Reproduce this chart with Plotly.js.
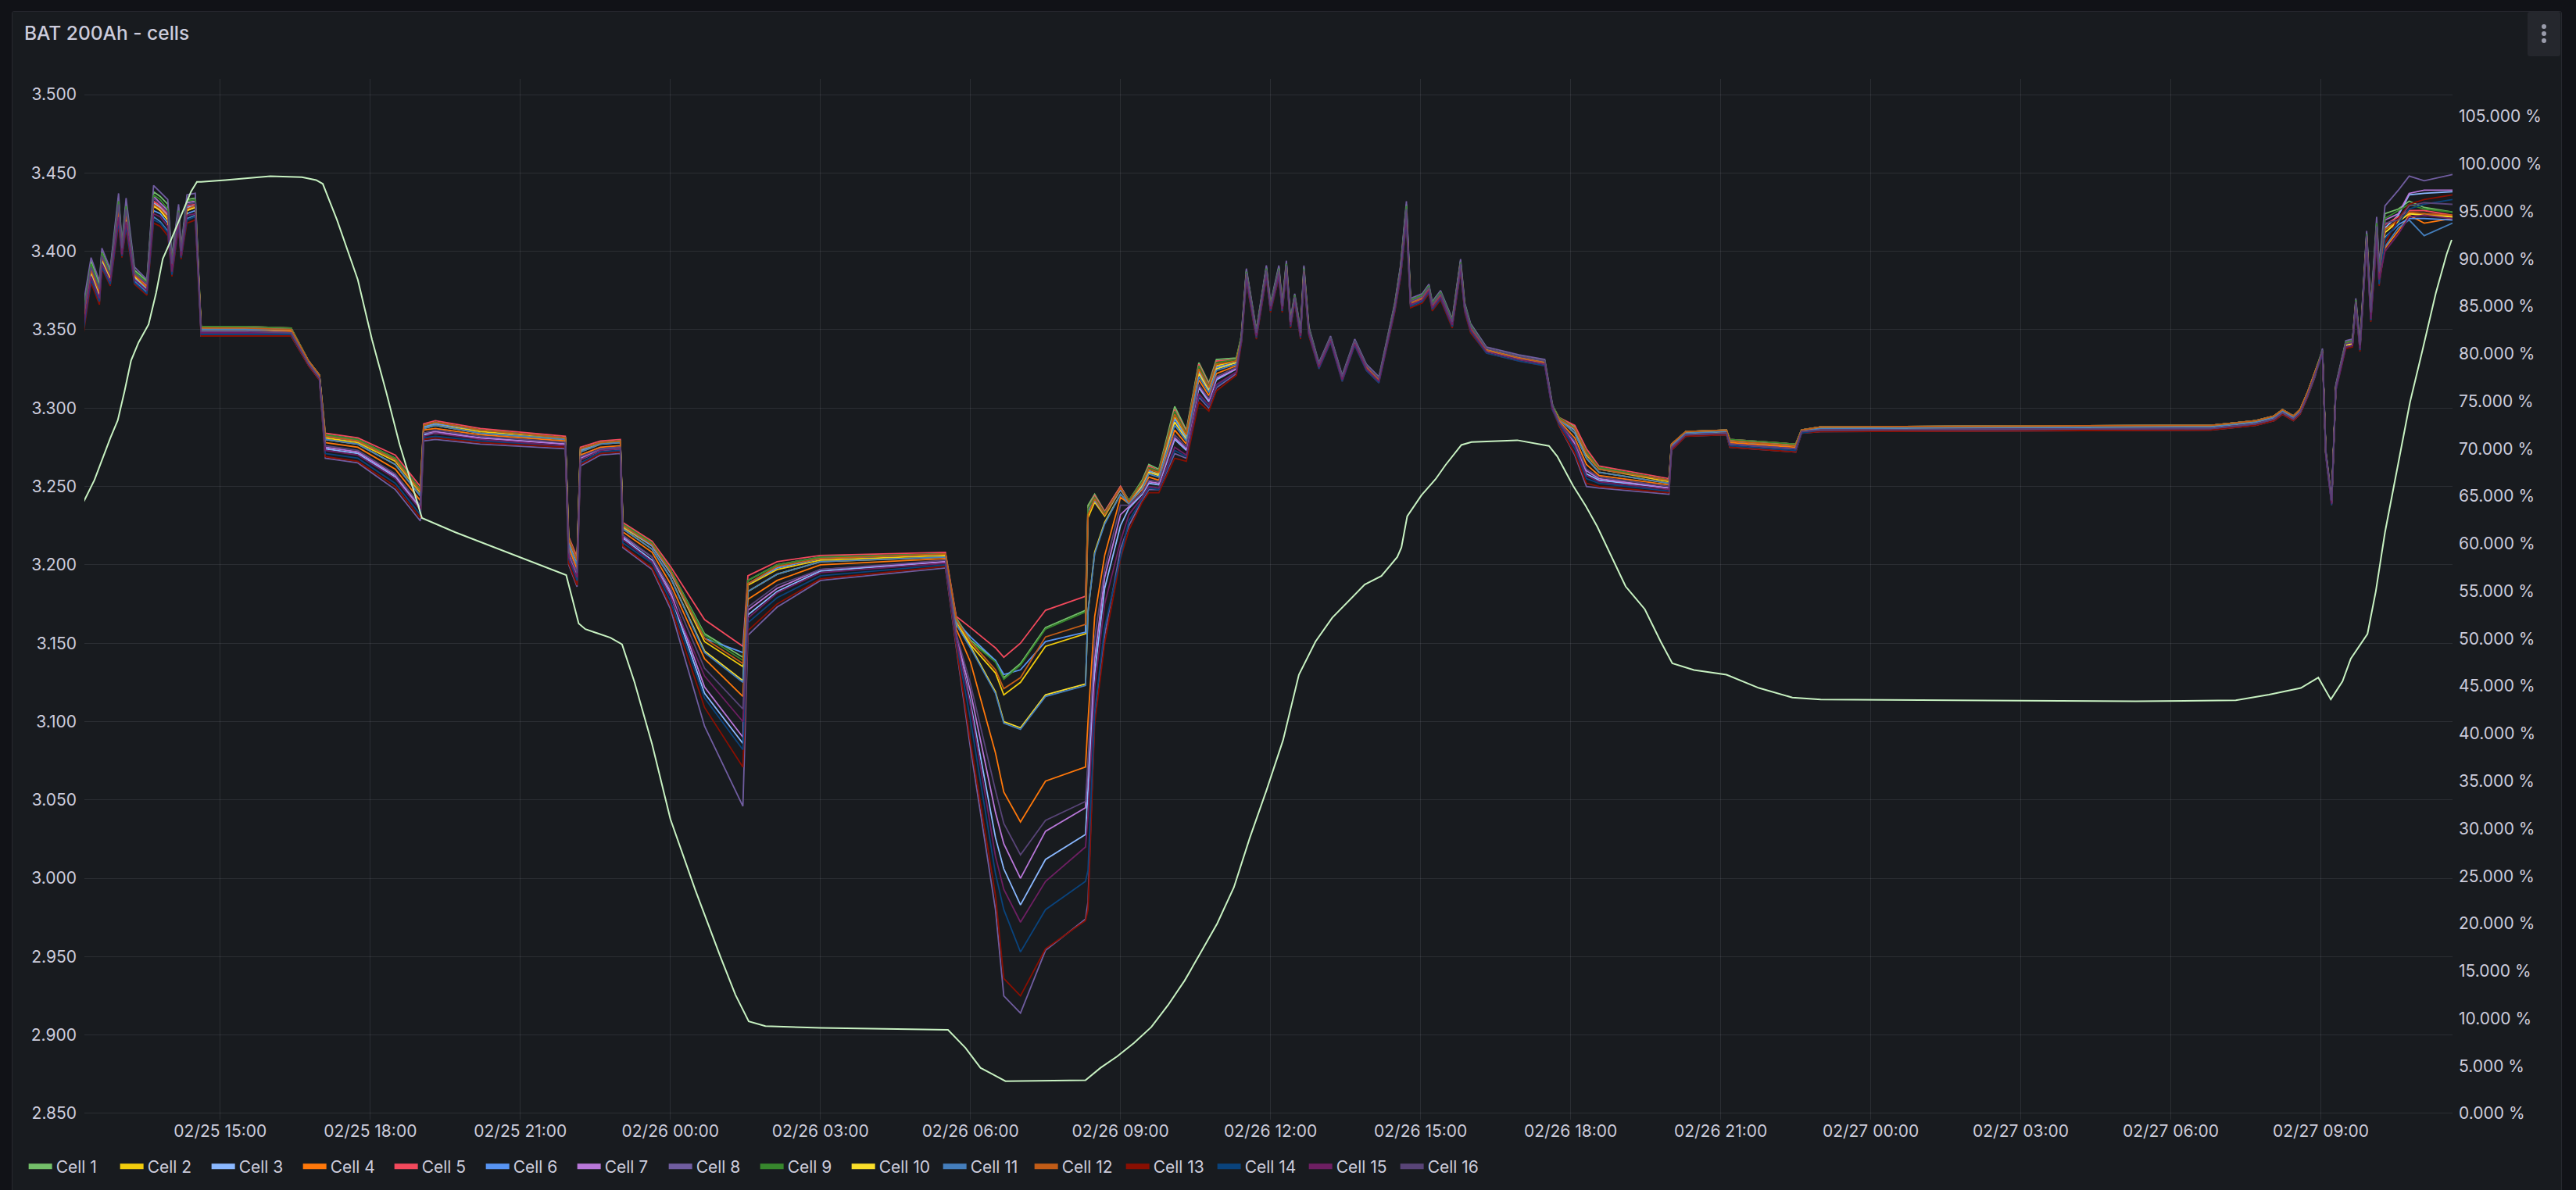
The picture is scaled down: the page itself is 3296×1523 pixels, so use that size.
<!DOCTYPE html>
<html>
<head>
<meta charset="utf-8">
<title>BAT 200Ah - cells</title>
<script src="https://cdn.plot.ly/plotly-3.0.1.min.js"></script>
<style>
  html, body { margin: 0; padding: 0; background: #111217; overflow: hidden; }
  #panel {
    position: absolute; left: 15px; top: 14px;
    width: 3261px; height: 1520px;
    border: 1px solid rgba(204, 204, 220, 0.12);
    border-radius: 3px; overflow: hidden;
  }
  #chart { position: absolute; left: 0; top: 0; }
  #menu {
    position: absolute; left: 3234px; top: 15px; width: 42px; height: 57px;
    background: #25272d; border-radius: 3px;
  }
  #menu span {
    position: absolute; left: 18px; width: 6px; height: 6px;
    border-radius: 50%; background: #9a9cab;
  }
</style>
</head>
<body>
<div id="panel"><div id="chart"></div></div>
<div id="menu"><span style="top:16px"></span><span style="top:25px"></span><span style="top:34px"></span></div>
<script>
// sample times for the 16 cell series
const times = [
  '2025-02-25 12:16','2025-02-25 12:25','2025-02-25 12:35','2025-02-25 12:38','2025-02-25 12:48','2025-02-25 12:58','2025-02-25 13:02','2025-02-25 13:07','2025-02-25 13:17','2025-02-25 13:32','2025-02-25 13:40','2025-02-25 13:48','2025-02-25 13:57','2025-02-25 14:02','2025-02-25 14:10','2025-02-25 14:13','2025-02-25 14:20','2025-02-25 14:30',
  '2025-02-25 14:37','2025-02-25 15:30','2025-02-25 16:25','2025-02-25 16:46','2025-02-25 16:59','2025-02-25 17:06','2025-02-25 17:45','2025-02-25 18:30','2025-02-25 19:00','2025-02-25 19:04','2025-02-25 19:18','2025-02-25 20:12','2025-02-25 21:54','2025-02-25 21:58','2025-02-25 22:08','2025-02-25 22:12','2025-02-25 22:36','2025-02-25 23:00',
  '2025-02-25 23:03','2025-02-25 23:38','2025-02-26 00:00','2025-02-26 00:41','2025-02-26 01:27','2025-02-26 01:33','2025-02-26 02:08','2025-02-26 03:00','2025-02-26 05:30','2025-02-26 05:43',
  '2025-02-26 06:00','2025-02-26 06:30','2025-02-26 06:40','2025-02-26 07:00','2025-02-26 07:30','2025-02-26 08:18','2025-02-26 08:21','2025-02-26 08:29','2025-02-26 08:41','2025-02-26 09:00','2025-02-26 09:10',
  '2025-02-26 09:26','2025-02-26 09:34','2025-02-26 09:46','2025-02-26 10:05','2025-02-26 10:19','2025-02-26 10:34','2025-02-26 10:46','2025-02-26 10:55','2025-02-26 11:19',
  '2025-02-26 11:25','2025-02-26 11:31','2025-02-26 11:43','2025-02-26 11:55','2025-02-26 12:00','2025-02-26 12:10','2025-02-26 12:14','2025-02-26 12:19','2025-02-26 12:24','2025-02-26 12:29','2025-02-26 12:36','2025-02-26 12:40','2025-02-26 12:46','2025-02-26 12:58','2025-02-26 13:12','2025-02-26 13:26','2025-02-26 13:41','2025-02-26 13:55','2025-02-26 14:10','2025-02-26 14:29','2025-02-26 14:36','2025-02-26 14:43','2025-02-26 14:48','2025-02-26 15:02','2025-02-26 15:10','2025-02-26 15:14','2025-02-26 15:24','2025-02-26 15:38','2025-02-26 15:48','2025-02-26 15:53','2025-02-26 16:00','2025-02-26 16:19','2025-02-26 16:58','2025-02-26 17:29','2025-02-26 17:38',
  '2025-02-26 17:46','2025-02-26 18:05','2025-02-26 18:19','2025-02-26 18:34','2025-02-26 19:58','2025-02-26 20:01','2025-02-26 20:18','2025-02-26 21:07','2025-02-26 21:11','2025-02-26 22:30','2025-02-26 22:37','2025-02-26 23:00','2025-02-27 06:48','2025-02-27 07:42','2025-02-27 08:04','2025-02-27 08:14','2025-02-27 08:27','2025-02-27 08:35','2025-02-27 08:44','2025-02-27 08:53',
  '2025-02-27 09:02','2025-02-27 09:06','2025-02-27 09:13','2025-02-27 09:18','2025-02-27 09:30','2025-02-27 09:38','2025-02-27 09:42','2025-02-27 09:47','2025-02-27 09:55','2025-02-27 10:00','2025-02-27 10:07','2025-02-27 10:10','2025-02-27 10:17',
  '2025-02-27 10:33','2025-02-27 10:46','2025-02-27 11:04','2025-02-27 11:38'
];

// cell voltages (V)
const cell1 = [
  3.364,3.394,3.379,3.400,3.387,3.434,3.404,3.431,3.388,3.381,3.438,3.435,3.430,3.395,3.428,3.401,3.433,3.434,
  3.352,3.352,3.351,3.330,3.321,3.283,3.280,3.268,3.248,3.289,3.291,3.286,3.281,3.217,3.204,3.274,3.278,3.279,
  3.226,3.214,3.197,3.156,3.141,3.190,3.200,3.205,3.207,3.166,
  3.152,3.139,3.128,3.137,3.160,3.171,3.238,3.245,3.234,3.250,3.241,
  3.254,3.264,3.261,3.301,3.286,3.329,3.316,3.331,3.332,
  3.346,3.388,3.349,3.390,3.366,3.390,3.366,3.393,3.356,3.372,3.349,3.390,3.351,3.328,3.345,3.320,3.343,3.327,3.319,3.366,3.390,3.430,3.369,3.372,3.378,3.367,3.374,3.356,3.394,3.366,3.353,3.338,3.333,3.330,3.302,
  3.294,3.288,3.272,3.262,3.254,3.277,3.285,3.286,3.280,3.277,3.286,3.288,3.289,3.292,3.295,3.299,3.295,3.299,3.310,3.323,
  3.337,3.272,3.241,3.314,3.342,3.343,3.369,3.341,3.412,3.363,3.419,3.390,3.424,
  3.427,3.432,3.428,3.425
];
const cell2 = [
  3.358,3.388,3.374,3.396,3.384,3.427,3.401,3.424,3.385,3.377,3.430,3.427,3.422,3.391,3.423,3.399,3.427,3.429,
  3.351,3.351,3.350,3.330,3.321,3.281,3.278,3.266,3.246,3.288,3.290,3.285,3.281,3.215,3.202,3.273,3.278,3.279,
  3.224,3.212,3.195,3.151,3.135,3.187,3.197,3.203,3.206,3.164,
  3.149,3.131,3.117,3.125,3.148,3.156,3.230,3.240,3.231,3.248,3.240,
  3.251,3.260,3.258,3.294,3.282,3.324,3.312,3.327,3.330,
  3.344,3.385,3.347,3.387,3.364,3.387,3.364,3.390,3.354,3.370,3.347,3.387,3.349,3.327,3.344,3.319,3.342,3.326,3.318,3.364,3.387,3.425,3.367,3.370,3.376,3.365,3.372,3.354,3.391,3.364,3.351,3.337,3.332,3.329,3.301,
  3.293,3.286,3.270,3.261,3.253,3.276,3.285,3.286,3.279,3.276,3.286,3.288,3.289,3.292,3.295,3.299,3.295,3.299,3.310,3.323,
  3.336,3.271,3.240,3.313,3.341,3.342,3.367,3.339,3.409,3.360,3.414,3.385,3.414,
  3.419,3.424,3.424,3.422
];
const cell3 = [
  3.358,3.389,3.374,3.396,3.384,3.428,3.401,3.425,3.385,3.378,3.431,3.428,3.423,3.391,3.423,3.399,3.428,3.429,
  3.348,3.348,3.348,3.328,3.319,3.274,3.271,3.256,3.236,3.283,3.284,3.281,3.277,3.206,3.193,3.267,3.273,3.274,
  3.217,3.203,3.181,3.118,3.086,3.168,3.183,3.196,3.202,3.154,
  3.112,3.026,3.006,2.983,3.012,3.028,3.055,3.131,3.185,3.225,3.236,
  3.245,3.252,3.251,3.280,3.273,3.313,3.304,3.318,3.325,
  3.344,3.385,3.347,3.387,3.364,3.387,3.364,3.390,3.354,3.370,3.347,3.387,3.349,3.327,3.344,3.319,3.342,3.326,3.318,3.364,3.387,3.426,3.367,3.370,3.376,3.365,3.372,3.354,3.391,3.364,3.351,3.337,3.332,3.329,3.301,
  3.291,3.277,3.258,3.254,3.249,3.274,3.283,3.284,3.277,3.274,3.285,3.286,3.287,3.290,3.293,3.297,3.293,3.297,3.308,3.321,
  3.336,3.271,3.240,3.313,3.341,3.342,3.367,3.339,3.409,3.360,3.414,3.386,3.415,
  3.423,3.436,3.437,3.438
];
const cell4 = [
  3.357,3.387,3.373,3.395,3.383,3.426,3.400,3.423,3.384,3.377,3.429,3.426,3.420,3.390,3.422,3.398,3.426,3.428,
  3.350,3.350,3.349,3.329,3.320,3.278,3.275,3.261,3.241,3.286,3.287,3.283,3.279,3.211,3.197,3.270,3.275,3.276,
  3.221,3.208,3.188,3.140,3.116,3.178,3.190,3.200,3.204,3.159,
  3.138,3.080,3.055,3.036,3.062,3.071,3.100,3.167,3.206,3.243,3.239,
  3.248,3.256,3.254,3.286,3.277,3.318,3.308,3.322,3.327,
  3.344,3.385,3.347,3.387,3.364,3.387,3.364,3.390,3.354,3.370,3.347,3.387,3.349,3.327,3.344,3.319,3.342,3.326,3.318,3.364,3.387,3.424,3.367,3.370,3.376,3.365,3.372,3.354,3.391,3.364,3.351,3.337,3.332,3.329,3.301,
  3.292,3.281,3.264,3.257,3.251,3.275,3.284,3.285,3.278,3.275,3.285,3.287,3.288,3.291,3.294,3.298,3.294,3.298,3.309,3.322,
  3.336,3.271,3.240,3.313,3.340,3.341,3.367,3.339,3.409,3.359,3.413,3.384,3.402,
  3.413,3.423,3.418,3.421
];
const cell5 = [
  3.359,3.390,3.375,3.397,3.385,3.429,3.401,3.426,3.386,3.378,3.432,3.429,3.424,3.392,3.424,3.399,3.429,3.430,
  3.352,3.352,3.351,3.330,3.321,3.284,3.281,3.270,3.250,3.290,3.292,3.287,3.282,3.218,3.205,3.275,3.279,3.280,
  3.227,3.215,3.199,3.165,3.148,3.193,3.202,3.206,3.208,3.167,
  3.160,3.147,3.141,3.150,3.171,3.180,3.236,3.244,3.234,3.250,3.241,
  3.253,3.263,3.260,3.299,3.285,3.328,3.315,3.330,3.331,
  3.345,3.386,3.348,3.388,3.365,3.388,3.365,3.391,3.355,3.371,3.348,3.388,3.350,3.327,3.344,3.319,3.342,3.326,3.318,3.365,3.388,3.426,3.368,3.371,3.377,3.366,3.373,3.355,3.392,3.365,3.352,3.337,3.332,3.329,3.301,
  3.294,3.289,3.274,3.263,3.255,3.277,3.285,3.286,3.280,3.277,3.286,3.288,3.289,3.292,3.295,3.299,3.295,3.299,3.310,3.323,
  3.336,3.271,3.240,3.313,3.341,3.342,3.368,3.340,3.410,3.360,3.415,3.386,3.417,
  3.422,3.426,3.426,3.423
];
const cell6 = [
  3.355,3.386,3.371,3.394,3.382,3.424,3.399,3.421,3.383,3.376,3.426,3.424,3.418,3.389,3.420,3.397,3.424,3.426,
  3.351,3.351,3.350,3.330,3.321,3.282,3.279,3.267,3.247,3.288,3.290,3.286,3.281,3.215,3.202,3.273,3.278,3.279,
  3.225,3.212,3.195,3.153,3.144,3.188,3.198,3.204,3.207,3.164,
  3.154,3.139,3.130,3.133,3.151,3.157,3.234,3.241,3.232,3.248,3.240,
  3.251,3.260,3.257,3.293,3.281,3.323,3.312,3.326,3.329,
  3.343,3.384,3.346,3.386,3.363,3.386,3.363,3.389,3.353,3.369,3.346,3.386,3.348,3.326,3.343,3.318,3.341,3.325,3.317,3.363,3.386,3.423,3.366,3.369,3.375,3.364,3.371,3.353,3.390,3.363,3.350,3.336,3.331,3.328,3.300,
  3.293,3.286,3.271,3.261,3.254,3.276,3.285,3.286,3.279,3.276,3.286,3.288,3.289,3.292,3.295,3.299,3.295,3.299,3.310,3.323,
  3.335,3.270,3.239,3.312,3.340,3.341,3.366,3.338,3.408,3.358,3.411,3.383,3.409,
  3.417,3.421,3.421,3.420
];
const cell7 = [
  3.361,3.391,3.377,3.398,3.386,3.431,3.402,3.428,3.387,3.379,3.435,3.431,3.426,3.393,3.426,3.400,3.431,3.432,
  3.349,3.349,3.348,3.328,3.319,3.275,3.272,3.257,3.237,3.284,3.285,3.281,3.277,3.208,3.194,3.268,3.274,3.275,
  3.218,3.205,3.183,3.122,3.090,3.171,3.185,3.197,3.202,3.155,
  3.119,3.042,3.022,3.000,3.030,3.045,3.070,3.140,3.192,3.232,3.237,
  3.246,3.253,3.252,3.281,3.274,3.314,3.305,3.319,3.325,
  3.345,3.387,3.348,3.389,3.365,3.389,3.365,3.392,3.355,3.371,3.348,3.389,3.350,3.328,3.345,3.320,3.343,3.327,3.319,3.365,3.389,3.428,3.368,3.371,3.377,3.366,3.373,3.355,3.393,3.365,3.352,3.338,3.333,3.330,3.302,
  3.291,3.278,3.260,3.255,3.249,3.275,3.283,3.284,3.277,3.274,3.285,3.286,3.287,3.290,3.293,3.297,3.293,3.297,3.308,3.321,
  3.337,3.272,3.241,3.314,3.342,3.343,3.368,3.340,3.411,3.361,3.417,3.388,3.420,
  3.424,3.437,3.439,3.439
];
const cell8 = [
  3.367,3.396,3.381,3.402,3.389,3.437,3.405,3.434,3.390,3.382,3.442,3.438,3.433,3.397,3.430,3.402,3.436,3.437,
  3.346,3.346,3.346,3.327,3.318,3.268,3.265,3.248,3.228,3.279,3.280,3.277,3.274,3.200,3.186,3.263,3.270,3.271,
  3.211,3.197,3.172,3.097,3.046,3.155,3.173,3.190,3.198,3.147,
  3.083,2.980,2.925,2.914,2.954,2.974,2.985,3.104,3.155,3.210,3.225,
  3.241,3.248,3.248,3.271,3.268,3.307,3.300,3.313,3.322,
  3.347,3.389,3.350,3.391,3.367,3.391,3.367,3.394,3.357,3.373,3.350,3.391,3.352,3.329,3.346,3.321,3.344,3.328,3.320,3.367,3.391,3.432,3.370,3.373,3.379,3.368,3.375,3.357,3.395,3.367,3.354,3.339,3.334,3.331,3.303,
  3.289,3.270,3.250,3.249,3.245,3.273,3.282,3.283,3.275,3.272,3.284,3.285,3.286,3.289,3.292,3.296,3.292,3.296,3.307,3.320,
  3.338,3.273,3.242,3.315,3.343,3.344,3.370,3.342,3.413,3.364,3.422,3.392,3.429,
  3.439,3.448,3.445,3.449
];
const cell9 = [
  3.362,3.392,3.377,3.399,3.386,3.432,3.403,3.429,3.387,3.380,3.436,3.433,3.427,3.394,3.426,3.400,3.432,3.433,
  3.352,3.352,3.351,3.330,3.321,3.283,3.280,3.268,3.248,3.289,3.291,3.286,3.281,3.217,3.203,3.274,3.278,3.279,
  3.226,3.214,3.197,3.155,3.139,3.190,3.200,3.205,3.207,3.165,
  3.151,3.138,3.127,3.136,3.159,3.170,3.236,3.243,3.233,3.249,3.241,
  3.253,3.262,3.260,3.298,3.284,3.327,3.314,3.329,3.331,
  3.346,3.387,3.349,3.389,3.366,3.389,3.366,3.392,3.356,3.372,3.349,3.389,3.351,3.328,3.345,3.320,3.343,3.327,3.319,3.366,3.389,3.429,3.369,3.372,3.378,3.367,3.374,3.356,3.393,3.366,3.353,3.338,3.333,3.330,3.302,
  3.294,3.287,3.272,3.262,3.254,3.277,3.285,3.286,3.280,3.277,3.286,3.288,3.289,3.292,3.295,3.299,3.295,3.299,3.310,3.323,
  3.337,3.272,3.241,3.314,3.342,3.343,3.369,3.341,3.411,3.362,3.418,3.389,3.421,
  3.426,3.430,3.427,3.425
];
const cell10 = [
  3.357,3.387,3.373,3.395,3.383,3.426,3.400,3.423,3.384,3.377,3.429,3.426,3.420,3.390,3.422,3.398,3.426,3.428,
  3.350,3.350,3.350,3.329,3.320,3.280,3.277,3.264,3.244,3.287,3.289,3.284,3.280,3.213,3.200,3.272,3.277,3.278,
  3.223,3.210,3.192,3.145,3.126,3.183,3.194,3.202,3.205,3.162,
  3.148,3.119,3.100,3.096,3.117,3.124,3.170,3.208,3.227,3.245,3.239,
  3.250,3.259,3.257,3.291,3.280,3.322,3.311,3.325,3.329,
  3.344,3.385,3.347,3.387,3.364,3.387,3.364,3.390,3.354,3.370,3.347,3.387,3.349,3.327,3.344,3.319,3.342,3.326,3.318,3.364,3.387,3.424,3.367,3.370,3.376,3.365,3.372,3.354,3.391,3.364,3.351,3.337,3.332,3.329,3.301,
  3.293,3.284,3.268,3.259,3.252,3.276,3.284,3.285,3.279,3.276,3.285,3.287,3.288,3.291,3.294,3.298,3.294,3.298,3.309,3.322,
  3.336,3.271,3.240,3.313,3.340,3.341,3.367,3.339,3.409,3.359,3.413,3.384,3.412,
  3.419,3.424,3.423,3.422
];
const cell11 = [
  3.351,3.382,3.368,3.391,3.380,3.420,3.397,3.417,3.381,3.374,3.422,3.419,3.413,3.386,3.417,3.396,3.421,3.423,
  3.350,3.350,3.350,3.329,3.320,3.280,3.277,3.264,3.244,3.287,3.289,3.284,3.280,3.213,3.200,3.272,3.277,3.278,
  3.223,3.210,3.192,3.144,3.125,3.183,3.194,3.202,3.205,3.162,
  3.147,3.118,3.099,3.095,3.116,3.123,3.170,3.207,3.226,3.245,3.239,
  3.249,3.258,3.256,3.289,3.279,3.320,3.310,3.324,3.328,
  3.342,3.382,3.345,3.384,3.362,3.384,3.362,3.387,3.352,3.368,3.345,3.384,3.347,3.326,3.343,3.318,3.341,3.325,3.317,3.362,3.384,3.420,3.365,3.368,3.374,3.363,3.370,3.352,3.388,3.362,3.349,3.336,3.331,3.328,3.300,
  3.293,3.284,3.268,3.259,3.252,3.276,3.284,3.285,3.279,3.276,3.285,3.287,3.288,3.291,3.294,3.298,3.294,3.298,3.309,3.322,
  3.335,3.270,3.239,3.312,3.339,3.340,3.365,3.337,3.406,3.356,3.408,3.380,3.403,
  3.415,3.420,3.410,3.418
];
const cell12 = [
  3.358,3.388,3.374,3.396,3.384,3.427,3.401,3.424,3.385,3.377,3.430,3.427,3.422,3.391,3.423,3.399,3.427,3.429,
  3.351,3.351,3.350,3.330,3.321,3.282,3.279,3.267,3.247,3.289,3.291,3.286,3.281,3.216,3.203,3.274,3.278,3.279,
  3.225,3.213,3.196,3.153,3.137,3.188,3.199,3.204,3.207,3.165,
  3.151,3.133,3.121,3.128,3.154,3.162,3.232,3.242,3.232,3.249,3.240,
  3.252,3.261,3.259,3.296,3.283,3.325,3.313,3.328,3.330,
  3.344,3.385,3.347,3.387,3.364,3.387,3.364,3.390,3.354,3.370,3.347,3.387,3.349,3.327,3.344,3.319,3.342,3.326,3.318,3.364,3.387,3.425,3.367,3.370,3.376,3.365,3.372,3.354,3.391,3.364,3.351,3.337,3.332,3.329,3.301,
  3.293,3.287,3.271,3.261,3.254,3.277,3.285,3.286,3.279,3.276,3.286,3.288,3.289,3.292,3.295,3.299,3.295,3.299,3.310,3.323,
  3.336,3.271,3.240,3.313,3.341,3.342,3.367,3.339,3.409,3.360,3.414,3.385,3.414,
  3.420,3.425,3.424,3.423
];
const cell13 = [
  3.348,3.380,3.366,3.389,3.378,3.417,3.396,3.414,3.379,3.372,3.418,3.416,3.410,3.384,3.415,3.395,3.418,3.420,
  3.346,3.346,3.346,3.327,3.318,3.269,3.266,3.250,3.230,3.280,3.281,3.278,3.275,3.201,3.187,3.264,3.271,3.272,
  3.212,3.198,3.174,3.109,3.071,3.158,3.175,3.191,3.199,3.148,
  3.087,2.989,2.936,2.925,2.955,2.973,2.980,3.099,3.150,3.204,3.222,
  3.240,3.246,3.246,3.268,3.266,3.304,3.298,3.311,3.321,
  3.341,3.381,3.344,3.383,3.361,3.383,3.361,3.386,3.351,3.367,3.344,3.383,3.346,3.325,3.342,3.317,3.340,3.324,3.316,3.361,3.383,3.418,3.364,3.367,3.373,3.362,3.369,3.351,3.387,3.361,3.348,3.335,3.330,3.327,3.299,
  3.289,3.271,3.252,3.250,3.246,3.273,3.282,3.283,3.275,3.272,3.284,3.285,3.286,3.289,3.292,3.296,3.292,3.296,3.307,3.320,
  3.334,3.269,3.238,3.311,3.338,3.339,3.364,3.336,3.405,3.355,3.405,3.378,3.405,
  3.421,3.430,3.433,3.436
];
const cell14 = [
  3.350,3.382,3.368,3.390,3.379,3.419,3.397,3.416,3.380,3.373,3.420,3.418,3.412,3.385,3.417,3.396,3.420,3.422,
  3.347,3.347,3.347,3.328,3.319,3.271,3.268,3.252,3.232,3.281,3.282,3.279,3.276,3.204,3.190,3.265,3.272,3.273,
  3.214,3.201,3.177,3.115,3.082,3.163,3.179,3.193,3.200,3.151,
  3.101,3.003,2.980,2.953,2.980,2.998,3.005,3.106,3.160,3.205,3.228,
  3.242,3.249,3.248,3.273,3.269,3.308,3.301,3.314,3.323,
  3.342,3.382,3.345,3.384,3.362,3.384,3.362,3.387,3.352,3.368,3.345,3.384,3.347,3.325,3.342,3.317,3.340,3.324,3.316,3.362,3.384,3.419,3.365,3.368,3.374,3.363,3.370,3.352,3.388,3.362,3.349,3.335,3.330,3.327,3.299,
  3.290,3.274,3.255,3.252,3.247,3.274,3.283,3.284,3.276,3.273,3.284,3.286,3.287,3.290,3.293,3.297,3.293,3.297,3.308,3.321,
  3.334,3.269,3.238,3.311,3.339,3.340,3.365,3.337,3.406,3.356,3.407,3.379,3.408,
  3.418,3.427,3.430,3.433
];
const cell15 = [
  3.353,3.384,3.370,3.392,3.381,3.422,3.398,3.419,3.382,3.375,3.424,3.422,3.416,3.387,3.419,3.397,3.423,3.424,
  3.348,3.348,3.348,3.328,3.319,3.273,3.270,3.255,3.235,3.282,3.284,3.280,3.276,3.205,3.192,3.267,3.273,3.274,
  3.216,3.202,3.180,3.129,3.100,3.166,3.182,3.195,3.201,3.153,
  3.110,3.014,2.993,2.972,2.998,3.020,3.040,3.122,3.175,3.215,3.232,
  3.243,3.250,3.249,3.275,3.270,3.309,3.302,3.315,3.323,
  3.343,3.383,3.346,3.385,3.363,3.385,3.363,3.388,3.353,3.369,3.346,3.385,3.348,3.326,3.343,3.318,3.341,3.325,3.317,3.363,3.385,3.422,3.366,3.369,3.375,3.364,3.371,3.353,3.389,3.363,3.350,3.336,3.331,3.328,3.300,
  3.291,3.276,3.257,3.253,3.248,3.274,3.283,3.284,3.277,3.274,3.285,3.286,3.287,3.290,3.293,3.297,3.293,3.297,3.308,3.321,
  3.335,3.270,3.239,3.312,3.339,3.340,3.366,3.338,3.407,3.357,3.409,3.382,3.400,
  3.411,3.422,3.423,3.421
];
const cell16 = [
  3.360,3.390,3.376,3.397,3.385,3.430,3.402,3.427,3.386,3.379,3.434,3.430,3.425,3.392,3.425,3.400,3.430,3.431,
  3.349,3.349,3.348,3.328,3.319,3.276,3.273,3.258,3.238,3.284,3.286,3.282,3.278,3.208,3.195,3.269,3.274,3.275,
  3.219,3.205,3.185,3.134,3.108,3.173,3.187,3.197,3.203,3.156,
  3.124,3.056,3.035,3.015,3.037,3.049,3.075,3.153,3.197,3.238,3.238,
  3.246,3.254,3.253,3.283,3.275,3.315,3.306,3.320,3.326,
  3.345,3.386,3.348,3.388,3.365,3.388,3.365,3.391,3.355,3.371,3.348,3.388,3.350,3.328,3.345,3.320,3.343,3.327,3.319,3.365,3.388,3.427,3.368,3.371,3.377,3.366,3.373,3.355,3.392,3.365,3.352,3.338,3.333,3.330,3.302,
  3.291,3.279,3.261,3.256,3.250,3.275,3.283,3.284,3.277,3.274,3.285,3.286,3.287,3.290,3.293,3.297,3.293,3.297,3.308,3.321,
  3.337,3.272,3.241,3.314,3.341,3.342,3.368,3.340,3.410,3.361,3.416,3.387,3.418,
  3.420,3.429,3.431,3.430
];

// state of charge (%), right axis
const socTimes = [
  '2025-02-25 12:16','2025-02-25 12:29','2025-02-25 12:48','2025-02-25 12:57','2025-02-25 13:05','2025-02-25 13:13','2025-02-25 13:22','2025-02-25 13:34','2025-02-25 13:43','2025-02-25 13:51','2025-02-25 13:59','2025-02-25 14:08','2025-02-25 14:16','2025-02-25 14:25','2025-02-25 14:32','2025-02-25 14:37',
  '2025-02-25 15:06','2025-02-25 15:30','2025-02-25 16:00','2025-02-25 16:38','2025-02-25 16:55','2025-02-25 17:03','2025-02-25 17:20','2025-02-25 17:45','2025-02-25 18:02','2025-02-25 18:19','2025-02-25 18:35','2025-02-25 18:52','2025-02-25 19:02','2025-02-25 19:42',
  '2025-02-25 21:32','2025-02-25 21:55','2025-02-25 22:10','2025-02-25 22:18','2025-02-25 22:48','2025-02-25 23:02','2025-02-25 23:17','2025-02-25 23:38',
  '2025-02-26 00:00','2025-02-26 00:30','2025-02-26 01:00','2025-02-26 01:18','2025-02-26 01:34','2025-02-26 01:54','2025-02-26 03:00','2025-02-26 05:33','2025-02-26 05:54','2025-02-26 06:12','2025-02-26 06:42','2025-02-26 08:18',
  '2025-02-26 08:36','2025-02-26 08:56','2025-02-26 09:16','2025-02-26 09:37','2025-02-26 09:57','2025-02-26 10:17','2025-02-26 10:36','2025-02-26 10:56','2025-02-26 11:16','2025-02-26 11:35','2025-02-26 11:55','2025-02-26 12:15','2025-02-26 12:34','2025-02-26 12:54','2025-02-26 13:14','2025-02-26 13:34','2025-02-26 13:53','2025-02-26 14:13','2025-02-26 14:32',
  '2025-02-26 14:37','2025-02-26 14:44','2025-02-26 15:01','2025-02-26 15:18','2025-02-26 15:30','2025-02-26 15:49','2025-02-26 16:01','2025-02-26 16:56','2025-02-26 17:34','2025-02-26 17:44','2025-02-26 18:03','2025-02-26 18:18','2025-02-26 18:32','2025-02-26 18:44',
  '2025-02-26 19:06','2025-02-26 19:29','2025-02-26 19:48','2025-02-26 20:02','2025-02-26 20:28','2025-02-26 21:07','2025-02-26 21:46','2025-02-26 22:26','2025-02-26 23:00',
  '2025-02-27 05:18','2025-02-27 07:18','2025-02-27 07:58','2025-02-27 08:36','2025-02-27 08:57','2025-02-27 09:12','2025-02-27 09:26','2025-02-27 09:36','2025-02-27 09:56','2025-02-27 10:06','2025-02-27 10:17','2025-02-27 10:31','2025-02-27 10:47','2025-02-27 11:02','2025-02-27 11:18','2025-02-27 11:31','2025-02-27 11:37'
];
const socValues = [
  64.4,66.7,71.1,73.0,76.0,79.3,81.2,83.1,86.4,90.0,91.6,93.5,95.2,97.1,98.1,98.1,
  98.3,98.5,98.7,98.6,98.3,97.9,94.1,87.8,81.5,76.0,70.5,65.6,62.7,61.2,
  57.5,56.7,51.6,51.0,50.1,49.4,45.4,38.9,
  31.0,23.5,16.5,12.5,9.7,9.2,9.0,8.8,6.9,4.8,3.4,3.5,
  4.8,6.0,7.4,9.1,11.4,14.0,16.9,20.0,23.8,29.0,34.0,39.3,46.2,49.7,52.2,54.0,55.7,56.6,58.6,
  59.6,62.9,65.1,66.8,68.3,70.4,70.7,70.9,70.3,69.2,66.1,64.0,61.8,59.6,
  55.5,53.1,49.7,47.4,46.7,46.2,44.8,43.8,43.6,
  43.4,43.5,44.1,44.8,45.9,43.6,45.5,47.9,50.5,55.0,61.2,67.5,74.9,80.4,86.4,90.5,92.0
];

const cellNames = ['Cell 1','Cell 2','Cell 3','Cell 4','Cell 5','Cell 6','Cell 7','Cell 8',
                   'Cell 9','Cell 10','Cell 11','Cell 12','Cell 13','Cell 14','Cell 15','Cell 16'];
const cellSeries = [cell1, cell2, cell3, cell4, cell5, cell6, cell7, cell8,
                    cell9, cell10, cell11, cell12, cell13, cell14, cell15, cell16];
const cellColors = ['#73BF69','#F2CC0C','#8AB8FF','#FF780A','#F2495C','#5794F2','#B877D9','#705DA0',
                    '#37872D','#FADE2A','#447EBC','#C15C17','#890F02','#0A437C','#6D1F62','#584477'];

const GRID = 'rgba(204,204,220,0.11)';
const TEXT = '#ccccdc';
const W = 3261, H = 1520;

const traces = [];

// SOC on the right axis, drawn first so the cells sit on top
traces.push({
    x: socTimes, y: socValues,
    type: 'scatter', mode: 'lines', name: 'SOC',
    line: { color: '#C8F2C2', width: 2 },
    yaxis: 'y2', showlegend: false, hoverinfo: 'skip'
});

cellSeries.forEach((vals, i) => {
    traces.push({
        x: times, y: vals,
        type: 'scatter', mode: 'lines', name: cellNames[i],
        line: { color: cellColors[i], width: 1.8 },
        legendgroup: cellNames[i], showlegend: false, hoverinfo: 'skip'
    });
});

// legend swatches (thick pills like the dashboard legend)
cellNames.forEach((name, i) => {
    traces.push({
        x: [null], y: [null],
        type: 'scatter', mode: 'lines', name,
        line: { color: cellColors[i], width: 7 },
        legendgroup: name, showlegend: true, hoverinfo: 'skip'
    });
});

const layout = {
    width: W, height: H,
    paper_bgcolor: '#181b1f',
    plot_bgcolor: '#181b1f',
    font: { family: 'Inter, sans-serif', size: 21, color: TEXT },
    margin: { l: 92, r: 139, t: 86, b: 102 },
    title: {
        text: 'BAT 200Ah - cells',
        xref: 'container', x: 15 / W, xanchor: 'left',
        yref: 'container', y: 1 - 27 / H, yanchor: 'middle',
        font: { family: 'Inter, sans-serif', size: 24.5, weight: 500, color: TEXT }
    },
    xaxis: {
        type: 'date',
        range: ['2025-02-25 12:17', '2025-02-27 11:38'],
        tick0: '2025-02-25 00:00', dtick: 3 * 3600 * 1000,
        tickformat: '%m/%d %H:%M',
        showgrid: true, gridcolor: GRID, gridwidth: 1,
        zeroline: false, showline: false, ticks: '',
        tickfont: { size: 21, color: TEXT }
    },
    yaxis: {
        range: [2.846, 3.510],
        tick0: 2.85, dtick: 0.05, tickformat: '.3f',
        showgrid: true, gridcolor: GRID, gridwidth: 1,
        zeroline: false, showline: false, ticks: '',
        ticklabelstandoff: 9,
        tickfont: { size: 21, color: TEXT }
    },
    yaxis2: {
        overlaying: 'y', side: 'right',
        range: [-0.66, 108.95],
        tick0: 0, dtick: 5, tickformat: '.3f', ticksuffix: ' %',
        showgrid: false, zeroline: false, showline: false, ticks: '',
        ticklabelstandoff: 7,
        tickfont: { size: 21, color: TEXT }
    },
    showlegend: true,
    legend: {
        orientation: 'h',
        xref: 'container', x: 0.0048, xanchor: 'left',
        yref: 'container', y: 1 - 1478 / H, yanchor: 'middle',
        font: { size: 21, color: TEXT },
        bgcolor: 'rgba(0,0,0,0)',
        entrywidth: 72, entrywidthmode: 'pixels',
        traceorder: 'normal'
    },
    hovermode: false
};

Plotly.newPlot('chart', traces, layout, { displayModeBar: false, staticPlot: true });
</script>
</body>
</html>
